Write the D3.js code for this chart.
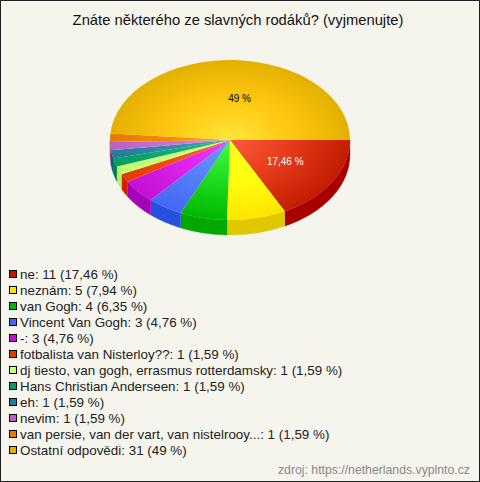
<!DOCTYPE html>
<html><head><meta charset="utf-8">
<script src="https://cdnjs.cloudflare.com/ajax/libs/d3/7.8.5/d3.min.js"></script>
<style>html,body{margin:0;padding:0;background:#f5f5ee}svg{display:block}text{font-family:"Liberation Sans",Arial,sans-serif}</style>
</head><body><div id="c"></div>
<script>
const titleText = "Znáte některého ze slavných rodáků? (vyjmenujte)";
const sourceText = "zdroj: https://netherlands.vyplnto.cz";
const categories = ["ne","neznám","van Gogh","Vincent Van Gogh","-","fotbalista van Nisterloy??","dj tiesto, van gogh, errasmus rotterdamsky","Hans Christian Anderseen","eh","nevim","van persie, van der vart, van nistelrooy...","Ostatní odpovědi"];
const values = [11,5,4,3,3,1,1,1,1,1,1,31];
// wedge sizes as drawn in the picture (%): the one-vote wedges are slightly wider than their true share
const drawnShares = [17.46,7.94,6.35,4.76,4.76,1.667,1.667,1.667,1.667,1.667,1.667,48.73];
const percentLabels = ["17,46 %","7,94 %","6,35 %","4,76 %","4,76 %","1,59 %","1,59 %","1,59 %","1,59 %","1,59 %","1,59 %","49 %"];
const shownLabels = ["17,46 %","49 %"];
const colorInner = ["#ff5a3a","#ffff20","#40ff40","#6c9cff","#f038ff","#ff6a20","#d8ff88","#20c080","#4898b8","#d888e8","#ff9a18","#ffe838"];
const colorMid   = ["#e43c1c","#ffff10","#20dc20","#5880fa","#dc24ec","#f45010","#ccff7c","#10ae70","#348ca8","#c874d6","#f48a0c","#ffc812"];
const colorOuter = ["#c41c00","#ffe400","#00b800","#4468f4","#c410d4","#e83800","#c0ff70","#009c60","#207c98","#b860c4","#e87800","#e4b000"];
const colorWall  = ["#a80000","#e0c800","#00a800","#2850e0","#a800b8","#d02000","#b8f068","#007c48","#0c5c78","#984ca8","#c86000","#c49000"];
const colorLegend= ["#c01800","#ffe400","#00b800","#4468f4","#c010d4","#e03c00","#c8ff78","#009c60","#207c98","#b860c4","#e87800","#e4b000"];

const W=480,H=482, rx=120, ry=80, depth=15, cx=230, cy=140;
const legendTop=274, legendStep=16;

const svg=d3.select("#c").append("svg").attr("width",W).attr("height",H);
svg.append("rect").attr("x",.5).attr("y",.5).attr("width",W-1).attr("height",H-1).attr("fill","#f5f5ee").attr("stroke","#222");
svg.append("text").attr("x",238).attr("y",25).attr("text-anchor","middle").attr("font-size",14.77).attr("fill","#111").text(titleText);

const defs=svg.append("defs");
colorInner.forEach((c,i)=>{
  const g=defs.append("radialGradient").attr("id","g"+i).attr("gradientUnits","userSpaceOnUse").attr("cx",0).attr("cy",0).attr("r",rx);
  g.append("stop").attr("offset",0).attr("stop-color",c);
  g.append("stop").attr("offset",.5).attr("stop-color",colorMid[i]);
  g.append("stop").attr("offset",1).attr("stop-color",colorOuter[i]);
});

const pie=d3.pie().sort(null).startAngle(Math.PI/2).endAngle(Math.PI/2+2*Math.PI);
const arcs=pie(drawnShares);
const ratio=ry/rx;
const root=svg.append("g").attr("transform",`translate(${cx},${cy}) scale(1,${ratio})`);
const arcGen=d3.arc().innerRadius(0).outerRadius(rx);
const dz=depth/ratio;
function wall(a){
  const s=Math.max(a.startAngle,Math.PI/2), e=Math.min(a.endAngle,3*Math.PI/2);
  if(e<=s) return null;
  const p=d3.path();
  const c0=s-Math.PI/2,c1=e-Math.PI/2;
  p.moveTo(rx*Math.cos(c0),rx*Math.sin(c0));
  p.arc(0,0,rx,c0,c1,false);
  p.lineTo(rx*Math.cos(c1),rx*Math.sin(c1)+dz);
  p.arc(0,dz,rx,c1,c0,true);
  p.closePath();
  return p.toString();
}
const wallData=arcs.map((a,i)=>({a,i,d:wall(a)})).filter(d=>d.d);
root.selectAll("path.w").data(wallData).join("path").attr("class","w").attr("d",d=>d.d).attr("fill",d=>colorWall[d.i]).attr("stroke",d=>colorWall[d.i]).attr("stroke-width",.3);
root.selectAll("path.t").data(arcs).join("path").attr("class","t").attr("d",arcGen).attr("fill",(d,i)=>`url(#g${i})`);

const lab=d3.arc().innerRadius(rx*.53).outerRadius(rx*.53);
arcs.forEach((a,i)=>{
  if(!shownLabels.includes(percentLabels[i])) return;
  const [x,y]=lab.centroid(a);
  svg.append("text").attr("x",cx+x+(i?7:1)).attr("y",cy+y*ratio+(i?4.5:3)).attr("text-anchor","middle").attr("font-size",10)
    .attr("fill",i===0?"#fff":"#000").text(percentLabels[i]);
});

const y=d3.scalePoint().domain(d3.range(categories.length)).range([legendTop,legendTop+legendStep*(categories.length-1)]);
const lg=svg.append("g").selectAll("g").data(categories).join("g").attr("transform",(d,i)=>`translate(0,${y(i)})`);
lg.append("rect").attr("x",9.5).attr("y",-3.5).attr("width",7).attr("height",7).attr("fill",(d,i)=>colorLegend[i]).attr("stroke","#000");
lg.append("text").attr("x",20).attr("y",5).attr("font-size",13.4).attr("fill","#222").text((d,i)=>`${d}: ${values[i]} (${percentLabels[i]})`);
svg.append("text").attr("x",470).attr("y",474).attr("text-anchor","end").attr("font-size",12.25).attr("fill","#888").text(sourceText);
</script></body></html>
